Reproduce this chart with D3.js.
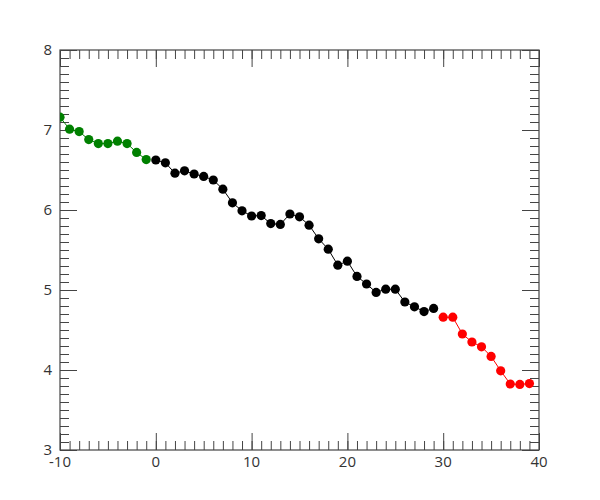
<!DOCTYPE html>
<html><head><meta charset="utf-8">
<script src="https://cdn.jsdelivr.net/npm/d3@7"></script>
<style>body{margin:0;background:#fff}svg{display:block}</style>
</head><body>
<svg id="c" width="600" height="500"></svg>
<script>
const greenX = [-10,-9,-8,-7,-6,-5,-4,-3,-2,-1];
const greenY = [7.16,7.01,6.98,6.88,6.83,6.83,6.86,6.83,6.72,6.63];
const blackX = [0,1,2,3,4,5,6,7,8,9,10,11,12,13,14,15,16,17,18,19,20,21,22,23,24,25,26,27,28,29];
const blackY = [6.625,6.59,6.46,6.49,6.45,6.42,6.375,6.26,6.09,5.99,5.925,5.93,5.83,5.82,5.95,5.915,5.81,5.64,5.51,5.31,5.36,5.17,5.075,4.97,5.01,5.01,4.85,4.79,4.73,4.77];
const redX = [30,31,32,33,34,35,36,37,38,39];
const redY = [4.66,4.66,4.45,4.35,4.29,4.17,3.99,3.825,3.82,3.83];
const xTicks = [-10,0,10,20,30,40];
const yTicks = [3,4,5,6,7,8];

const svg = d3.select("#c");
const L=60, R=539, T=50, B=450;
const x = d3.scaleLinear().domain([-10,40]).range([L,R]);
const y = d3.scaleLinear().domain([3,8]).range([B,T]);
const axisColor = "#444";
const font = "'Open Sans', sans-serif";

svg.append("defs").append("clipPath").attr("id","clip")
  .append("rect").attr("x",L).attr("y",T).attr("width",R-L).attr("height",B-T);

const xMinor = d3.range(-10,40.001,1);
const yMinor = d3.range(3,8.0001,0.1);

function ax(axisGen, tr, major, minor){
  const g1 = svg.append("g").attr("transform",tr)
    .call(axisGen.tickValues(minor).tickSize(9).tickFormat(""));
  g1.select(".domain").remove();
  g1.selectAll("line").attr("stroke",axisColor);
  const g2 = svg.append("g").attr("transform",tr)
    .call(axisGen.tickValues(major).tickSize(17).tickFormat(""));
  g2.select(".domain").remove();
  g2.selectAll("line").attr("stroke",axisColor);
}
ax(d3.axisTop(x), `translate(0,${B})`, xTicks, xMinor);
ax(d3.axisBottom(x), `translate(0,${T})`, xTicks, xMinor);
ax(d3.axisRight(y), `translate(${L},0)`, yTicks, yMinor);
ax(d3.axisLeft(y), `translate(${R},0)`, yTicks, yMinor);

svg.append("g").selectAll("text").data(xTicks).join("text")
  .attr("x",d=>x(d)).attr("y",B+17).attr("text-anchor","middle")
  .attr("font-family",font).attr("font-size",15).attr("fill","#333").text(d=>d);
svg.append("g").selectAll("text").data(yTicks).join("text")
  .attr("x",L-8).attr("y",d=>y(d)+5).attr("text-anchor","end")
  .attr("font-family",font).attr("font-size",15).attr("fill","#333").text(d=>d);

svg.append("rect").attr("x",L).attr("y",T).attr("width",R-L).attr("height",B-T)
  .attr("fill","none").attr("stroke",axisColor).attr("stroke-width",1.2);

const series = [
  {xs:greenX, ys:greenY, c:"#008000"},
  {xs:blackX, ys:blackY, c:"#000000"},
  {xs:redX, ys:redY, c:"#ff0000"}
];
const plot = svg.append("g").attr("clip-path","url(#clip)");
const line = d3.line().x(d=>x(d[0])).y(d=>y(d[1]));
series.forEach(s=>{
  const pts = s.xs.map((v,i)=>[v,s.ys[i]]);
  plot.append("path").datum(pts).attr("d",line).attr("fill","none").attr("stroke",s.c).attr("stroke-width",1);
  plot.append("g").selectAll("circle").data(pts).join("circle")
    .attr("cx",d=>x(d[0])).attr("cy",d=>y(d[1])).attr("r",4.6).attr("fill",s.c);
});
</script>
</body></html>
